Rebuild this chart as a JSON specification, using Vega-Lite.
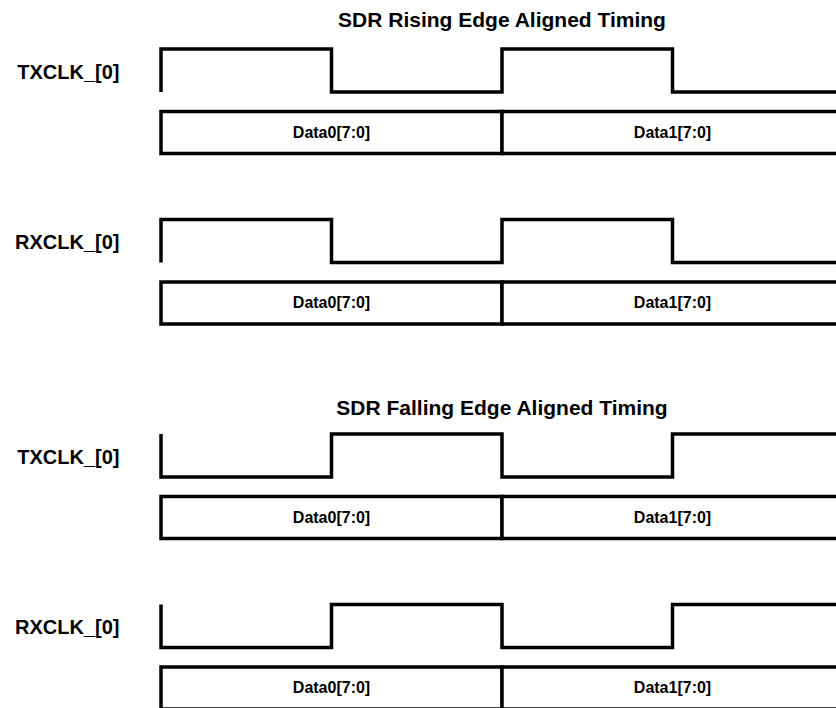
{
  "$schema": "https://vega.github.io/schema/vega-lite/v6.json",
  "padding": {"left": 14, "top": 10, "right": 0, "bottom": 0},
  "background": "white",
  "config": {
    "view": {"stroke": null},
    "font": "Liberation Sans",
    "axisY": {"domain": false, "ticks": false, "labels": false, "grid": false, "titleAngle": 0, "titleAlign": "right", "titleBaseline": "middle", "titleX": -42, "titleY": 23, "titleFontSize": 20, "titleFontWeight": "bold", "titleFont": "Liberation Sans", "titleColor": "black"},
    "title": {"fontSize": 21, "font": "Liberation Sans", "fontWeight": "bold", "color": "black", "anchor": "middle"}
  },
  "datasets": {
    "rise": [
      {"i": 0, "t": 0, "level": 0}, {"i": 1, "t": 0, "level": 1}, {"i": 2, "t": 1, "level": 1},
      {"i": 3, "t": 1, "level": 0}, {"i": 4, "t": 2, "level": 0}, {"i": 5, "t": 2, "level": 1},
      {"i": 6, "t": 3, "level": 1}, {"i": 7, "t": 3, "level": 0}, {"i": 8, "t": 4, "level": 0}
    ],
    "fall": [
      {"i": 0, "t": 0, "level": 1}, {"i": 1, "t": 0, "level": 0}, {"i": 2, "t": 1, "level": 0},
      {"i": 3, "t": 1, "level": 1}, {"i": 4, "t": 2, "level": 1}, {"i": 5, "t": 2, "level": 0},
      {"i": 6, "t": 3, "level": 0}, {"i": 7, "t": 3, "level": 1}, {"i": 8, "t": 4, "level": 1}
    ],
    "bus": [
      {"word": "Data0[7:0]", "start": 0, "end": 2, "mid": 1},
      {"word": "Data1[7:0]", "start": 2, "end": 4, "mid": 3}
    ]
  },
  "spacing": 72,
  "vconcat": [
    {
      "spacing": 56.5,
      "vconcat": [
        {
          "spacing": 10.5,
          "vconcat": [
            {
              "title": {"text": "SDR Rising Edge Aligned Timing", "offset": 11},
              "width": 682, "height": 43,
              "data": {"name": "rise"},
              "mark": {"type": "line", "color": "black", "strokeWidth": 3.5, "strokeJoin": "miter", "strokeCap": "butt"},
              "encoding": {
                "x": {"field": "t", "type": "quantitative", "scale": {"domain": [0, 4], "nice": false, "zero": false}, "axis": null},
                "y": {"field": "level", "type": "quantitative", "scale": {"domain": [0, 1], "nice": false}, "title": "TXCLK_[0]"},
                "order": {"field": "i", "type": "quantitative"}
              }
            },
            {
              "width": 682, "height": 42,
              "data": {"name": "bus"},
              "encoding": {"x": {"field": "start", "type": "quantitative", "scale": {"domain": [0, 4], "nice": false, "zero": false}, "axis": null}},
              "layer": [
                {"mark": {"type": "rect", "fill": "white", "stroke": "black", "strokeWidth": 3.5},
                 "encoding": {"x2": {"field": "end"}, "y": {"datum": 1, "type": "quantitative", "scale": {"domain": [0, 1], "nice": false}, "title": "TXD_[7:0]"}, "y2": {"datum": 0}}},
                {"mark": {"type": "text", "fontWeight": "bold", "fontSize": 16, "baseline": "middle", "color": "black"},
                 "encoding": {"x": {"field": "mid", "type": "quantitative"}, "y": {"datum": 0.5, "type": "quantitative", "title": "TXD_[7:0]"}, "text": {"field": "word"}}}
              ]
            }
          ]
        },
        {
          "spacing": 10.5,
          "vconcat": [
            {
              "width": 682, "height": 43,
              "data": {"name": "rise"},
              "mark": {"type": "line", "color": "black", "strokeWidth": 3.5, "strokeJoin": "miter", "strokeCap": "butt"},
              "encoding": {
                "x": {"field": "t", "type": "quantitative", "scale": {"domain": [0, 4], "nice": false, "zero": false}, "axis": null},
                "y": {"field": "level", "type": "quantitative", "scale": {"domain": [0, 1], "nice": false}, "title": "RXCLK_[0]"},
                "order": {"field": "i", "type": "quantitative"}
              }
            },
            {
              "width": 682, "height": 42,
              "data": {"name": "bus"},
              "encoding": {"x": {"field": "start", "type": "quantitative", "scale": {"domain": [0, 4], "nice": false, "zero": false}, "axis": null}},
              "layer": [
                {"mark": {"type": "rect", "fill": "white", "stroke": "black", "strokeWidth": 3.5},
                 "encoding": {"x2": {"field": "end"}, "y": {"datum": 1, "type": "quantitative", "scale": {"domain": [0, 1], "nice": false}, "title": "RXD_[7:0]"}, "y2": {"datum": 0}}},
                {"mark": {"type": "text", "fontWeight": "bold", "fontSize": 16, "baseline": "middle", "color": "black"},
                 "encoding": {"x": {"field": "mid", "type": "quantitative"}, "y": {"datum": 0.5, "type": "quantitative", "title": "RXD_[7:0]"}, "text": {"field": "word"}}}
              ]
            }
          ]
        }
      ]
    },
    {
      "spacing": 56.5,
      "vconcat": [
        {
          "spacing": 10.5,
          "vconcat": [
            {
              "title": {"text": "SDR Falling Edge Aligned Timing", "offset": 8},
              "width": 682, "height": 43,
              "data": {"name": "fall"},
              "mark": {"type": "line", "color": "black", "strokeWidth": 3.5, "strokeJoin": "miter", "strokeCap": "butt"},
              "encoding": {
                "x": {"field": "t", "type": "quantitative", "scale": {"domain": [0, 4], "nice": false, "zero": false}, "axis": null},
                "y": {"field": "level", "type": "quantitative", "scale": {"domain": [0, 1], "nice": false}, "title": "TXCLK_[0]"},
                "order": {"field": "i", "type": "quantitative"}
              }
            },
            {
              "width": 682, "height": 42,
              "data": {"name": "bus"},
              "encoding": {"x": {"field": "start", "type": "quantitative", "scale": {"domain": [0, 4], "nice": false, "zero": false}, "axis": null}},
              "layer": [
                {"mark": {"type": "rect", "fill": "white", "stroke": "black", "strokeWidth": 3.5},
                 "encoding": {"x2": {"field": "end"}, "y": {"datum": 1, "type": "quantitative", "scale": {"domain": [0, 1], "nice": false}, "title": "TXD_[7:0]"}, "y2": {"datum": 0}}},
                {"mark": {"type": "text", "fontWeight": "bold", "fontSize": 16, "baseline": "middle", "color": "black"},
                 "encoding": {"x": {"field": "mid", "type": "quantitative"}, "y": {"datum": 0.5, "type": "quantitative", "title": "TXD_[7:0]"}, "text": {"field": "word"}}}
              ]
            }
          ]
        },
        {
          "spacing": 10.5,
          "vconcat": [
            {
              "width": 682, "height": 43,
              "data": {"name": "fall"},
              "mark": {"type": "line", "color": "black", "strokeWidth": 3.5, "strokeJoin": "miter", "strokeCap": "butt"},
              "encoding": {
                "x": {"field": "t", "type": "quantitative", "scale": {"domain": [0, 4], "nice": false, "zero": false}, "axis": null},
                "y": {"field": "level", "type": "quantitative", "scale": {"domain": [0, 1], "nice": false}, "title": "RXCLK_[0]"},
                "order": {"field": "i", "type": "quantitative"}
              }
            },
            {
              "width": 682, "height": 42,
              "data": {"name": "bus"},
              "encoding": {"x": {"field": "start", "type": "quantitative", "scale": {"domain": [0, 4], "nice": false, "zero": false}, "axis": null}},
              "layer": [
                {"mark": {"type": "rect", "fill": "white", "stroke": "black", "strokeWidth": 3.5},
                 "encoding": {"x2": {"field": "end"}, "y": {"datum": 1, "type": "quantitative", "scale": {"domain": [0, 1], "nice": false}, "title": "RXD_[7:0]"}, "y2": {"datum": 0}}},
                {"mark": {"type": "text", "fontWeight": "bold", "fontSize": 16, "baseline": "middle", "color": "black"},
                 "encoding": {"x": {"field": "mid", "type": "quantitative"}, "y": {"datum": 0.5, "type": "quantitative", "title": "RXD_[7:0]"}, "text": {"field": "word"}}}
              ]
            }
          ]
        }
      ]
    }
  ]
}
